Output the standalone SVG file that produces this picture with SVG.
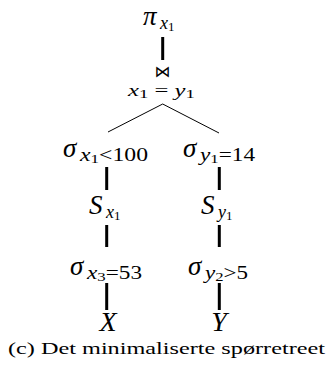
<svg xmlns="http://www.w3.org/2000/svg" width="336" height="365" viewBox="0 0 336 365">
<style>
.m{font-family:"Liberation Serif",serif;font-style:italic;font-size:27px;fill:#000}
.s{font-family:"Liberation Serif",serif;font-size:18px;fill:#000}
.i{font-style:italic}
.ss{font-size:13px}
.e{stroke:#000;stroke-width:3;fill:none}
.d{stroke:#000;stroke-width:1;fill:none}
.cap{font-family:"Liberation Serif",serif;font-size:17.5px;fill:#000}
</style>
<rect width="336" height="365" fill="#fff"/>
<g id="connectors">
<line class="e" x1="162.7" y1="37" x2="162.7" y2="60"/>
<line class="d" x1="162.7" y1="104" x2="108" y2="132"/>
<line class="d" x1="162.7" y1="104" x2="219" y2="133"/>
<line class="e" x1="106.7" y1="167" x2="106.7" y2="190"/>
<line class="e" x1="106.7" y1="225" x2="106.7" y2="247"/>
<line class="e" x1="106.7" y1="283" x2="106.7" y2="310"/>
<line class="e" x1="219.3" y1="167" x2="219.3" y2="190"/>
<line class="e" x1="219.3" y1="225" x2="219.3" y2="247"/>
<line class="e" x1="219.3" y1="283" x2="219.3" y2="310"/>
</g>
<g id="n-proj">
<text class="m" x="143" y="25">π</text>
<text class="s" x="160" y="29"><tspan class="i">x</tspan><tspan class="ss" dy="2">1</tspan></text>
</g>
<g id="n-join">
<text x="162.5" y="77" text-anchor="middle" style="font-family:'DejaVu Sans',sans-serif;font-size:16px">⋈</text>
<text class="s" x="128" y="96" style="font-size:17px" textLength="67" lengthAdjust="spacingAndGlyphs"><tspan class="i">x</tspan><tspan class="ss" dy="2">1</tspan><tspan dy="-2"> = </tspan><tspan class="i">y</tspan><tspan class="ss" dy="2">1</tspan></text>
</g>
<g id="n-sel-x1">
<text class="m" x="63" y="157">σ</text>
<text class="s" x="80" y="161" textLength="68" lengthAdjust="spacingAndGlyphs"><tspan class="i">x</tspan><tspan class="ss" dy="2">1</tspan><tspan dy="-2">&lt;100</tspan></text>
</g>
<g id="n-sel-y1">
<text class="m" x="183" y="157">σ</text>
<text class="s" x="200" y="161" textLength="55" lengthAdjust="spacingAndGlyphs"><tspan class="i">y</tspan><tspan class="ss" dy="2">1</tspan><tspan dy="-2">=14</tspan></text>
</g>
<g id="n-sx1">
<text class="m" x="89" y="214">S</text>
<text class="s" x="106" y="218"><tspan class="i">x</tspan><tspan class="ss" dy="2">1</tspan></text>
</g>
<g id="n-sy1">
<text class="m" x="201" y="214">S</text>
<text class="s" x="218" y="218"><tspan class="i">y</tspan><tspan class="ss" dy="2">1</tspan></text>
</g>
<g id="n-sel-x3">
<text class="m" x="70" y="275">σ</text>
<text class="s" x="87" y="279" textLength="55" lengthAdjust="spacingAndGlyphs"><tspan class="i">x</tspan><tspan class="ss" dy="2">3</tspan><tspan dy="-2">=53</tspan></text>
</g>
<g id="n-sel-y2">
<text class="m" x="188" y="275">σ</text>
<text class="s" x="205" y="279" textLength="43" lengthAdjust="spacingAndGlyphs"><tspan class="i">y</tspan><tspan class="ss" dy="2">2</tspan><tspan dy="-2">&gt;5</tspan></text>
</g>
<g id="n-x">
<text class="m" x="108" y="331" text-anchor="middle" style="font-size:28px">X</text>
</g>
<g id="n-y">
<text class="m" x="219" y="331" text-anchor="middle" style="font-size:28px">Y</text>
</g>
<text class="cap" x="8" y="354" textLength="317" lengthAdjust="spacingAndGlyphs">(c) Det minimaliserte spørretreet</text>
</svg>
